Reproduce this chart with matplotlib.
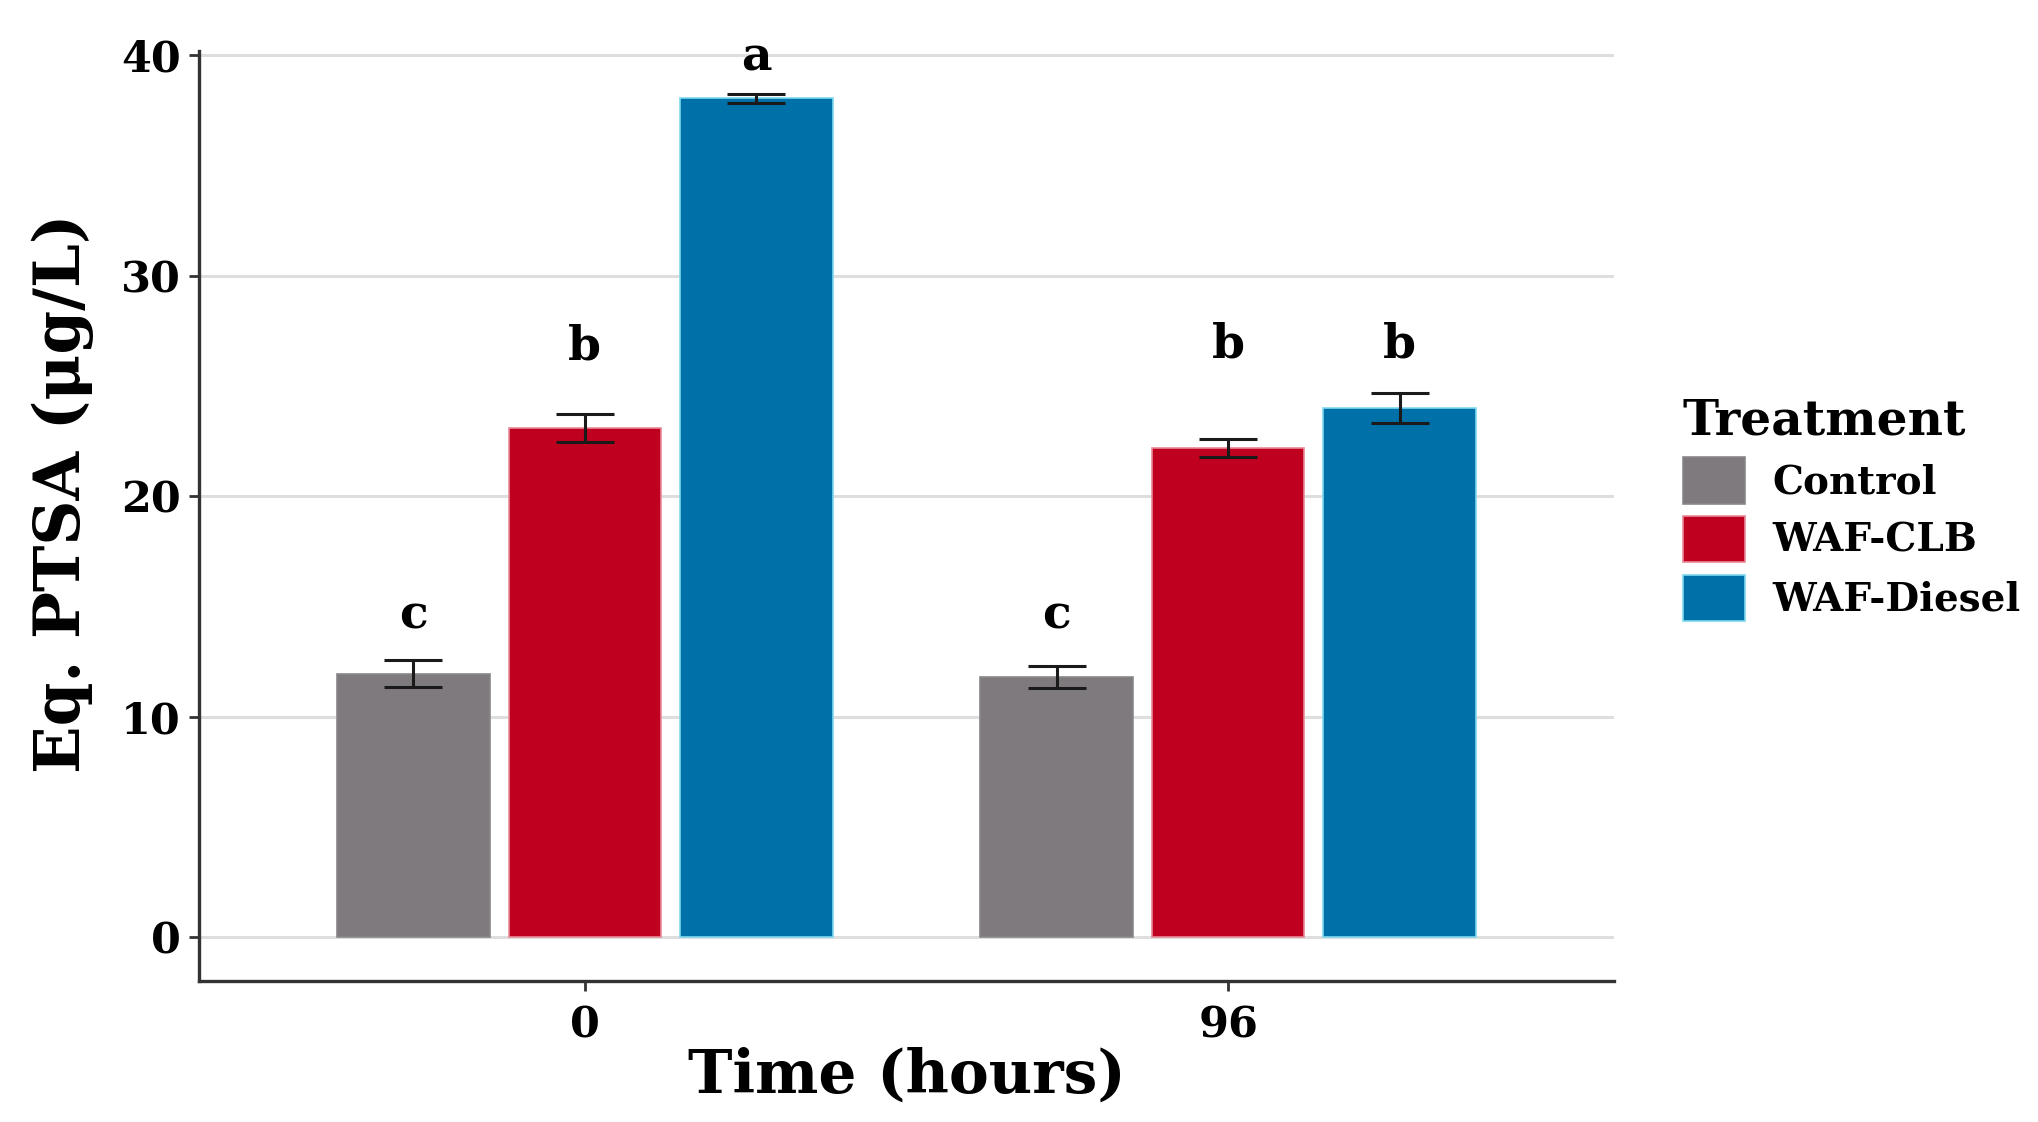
import matplotlib
matplotlib.use("Agg")
import matplotlib.pyplot as plt
from matplotlib.patches import Patch
import numpy as np

# data
times = ["0", "96"]
treatments = ["Control", "WAF-CLB", "WAF-Diesel"]
means = {"Control": [11.95, 11.8],
         "WAF-CLB": [23.1, 22.2],
         "WAF-Diesel": [38.05, 24.0]}
errs = {"Control": [0.6, 0.5],
        "WAF-CLB": [0.65, 0.4],
        "WAF-Diesel": [0.2, 0.7]}
letters = {"Control": ["c", "c"],
           "WAF-CLB": ["b", "b"],
           "WAF-Diesel": ["a", "b"]}
letter_y = {"Control": [14.6, 14.6],
            "WAF-CLB": [26.8, 26.9],
            "WAF-Diesel": [39.9, 26.9]}
colors = {"Control": "#7e7a7e", "WAF-CLB": "#bf001e", "WAF-Diesel": "#0070a8"}
edges = {"Control": "#8a878a", "WAF-CLB": "#e88a98", "WAF-Diesel": "#7fd8f0"}

plt.rcParams['font.family'] = ['DejaVu Serif']
plt.rcParams['font.weight'] = 'bold'

fig = plt.figure(figsize=(20.38, 11.22), dpi=100)
ax = fig.add_axes([0.0976, 0.1257, 0.6944, 0.8288])

x = np.arange(len(times))
slot = 0.8 / 3
width = slot * 0.89
for i, t in enumerate(treatments):
    xs = x + (i - 1) * slot
    ax.bar(xs, means[t], width, color=colors[t], edgecolor=edges[t],
           linewidth=1.2, zorder=2)
    ax.errorbar(xs, means[t], yerr=errs[t], fmt='none', ecolor='#1a1a1a',
                elinewidth=2.2, capsize=21, capthick=2.2, zorder=3)
    for xx, yy, s in zip(xs, letter_y[t], letters[t]):
        ax.text(xx, yy, s, ha='center', va='center', fontsize=34,
                fontweight='bold', clip_on=False)

ax.set_xlim(-0.6, 1.6)
ax.set_ylim(-2, 40.2)
ax.set_yticks([0, 10, 20, 30, 40])
ax.set_xticks(x)
ax.set_xticklabels(times)
ax.yaxis.grid(True, color='#dedede', linewidth=2.2, zorder=0)
ax.set_axisbelow(True)
for s in ['top', 'right']:
    ax.spines[s].set_visible(False)
for s in ['left', 'bottom']:
    ax.spines[s].set_color('#333333')
    ax.spines[s].set_linewidth(2.4)
ax.tick_params(axis='both', length=7, width=2, color='#333333',
               labelsize=31, pad=6)
ax.tick_params(axis='x', pad=10)
for lab in ax.get_xticklabels() + ax.get_yticklabels():
    lab.set_fontweight('bold')

ax.set_xlabel("Time (hours)", fontsize=43, fontweight='bold', labelpad=0)
fig.text(0.031, 0.560, "Eq. PTSA (μg/L)", rotation=90, ha='center',
         va='center', fontsize=45, fontweight='bold')

handles = [Patch(facecolor=colors[t], edgecolor=edges[t], linewidth=1.2)
           for t in treatments]
leg = fig.legend(handles, treatments, loc='center left',
                 bbox_to_anchor=(0.818, 0.546), frameon=False,
                 fontsize=28, title="Treatment", title_fontsize=35,
                 handlelength=1.6, handleheight=1.45, labelspacing=0.32,
                 handletextpad=0.7, borderaxespad=0)
leg._legend_box.align = "left"
leg.get_title().set_fontweight('bold')
for txt in leg.get_texts():
    txt.set_fontweight('bold')

fig.savefig("out.png", dpi=100)
